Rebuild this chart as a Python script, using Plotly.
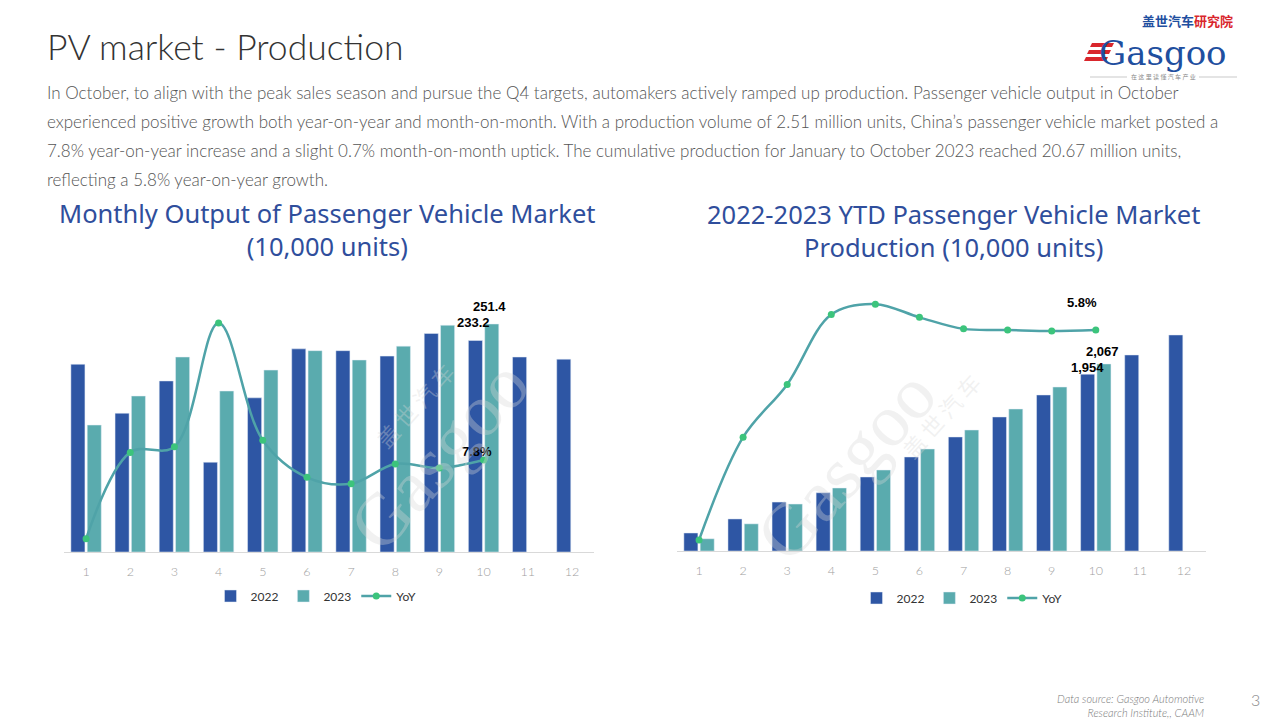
import plotly.graph_objects as go

W, H = 1280, 720

# ---------------- data ----------------
months = [str(i) for i in range(1, 13)]
monthly_2022 = [207, 153, 188.6, 99, 170, 224, 222, 216, 241, 233.2, 215, 212.6]
monthly_2023 = [140, 172, 215, 177.5, 200.6, 222, 211.7, 227, 250, 251.4]
monthly_yoy = [-32.3, 11.7, 14.6, 77.7, 17.9, -1.0, -4.3, 5.8, 3.7, 7.8]

ytd_2022 = [199, 354, 541, 644, 818, 1039, 1260, 1481, 1724, 1954, 2166, 2387]
ytd_2023 = [135, 300, 519, 696, 895, 1127, 1337, 1569, 1812, 2067]
ytd_yoy = [-32.4, -13.7, -4.1, 8.6, 10.5, 8.1, 6.0, 5.8, 5.6, 5.8]

series_names = ["2022", "2023", "YoY"]

title_main = "PV market - Production"
body_lines = [
    "In October, to align with the peak sales season and pursue the Q4 targets, automakers actively ramped up production. Passenger vehicle output in October",
    "experienced positive growth both year-on-year and month-on-month. With a production volume of 2.51 million units, China\u2019s passenger vehicle market posted a",
    "7.8% year-on-year increase and a slight 0.7% month-on-month uptick. The cumulative production for January to October 2023 reached 20.67 million units,",
    "reflecting a 5.8% year-on-year growth.",
]
left_title = "Monthly Output of Passenger Vehicle Market<br>(10,000 units)"
right_title = "2022-2023 YTD Passenger Vehicle Market<br>Production (10,000 units)"

# ---------------- style ----------------
C22 = "#2e56a4"
C23 = "#5aabae"
CLINE = "#4fa3a8"
CMARK = "#3cc47c"
CTITLE = "#2f4e9c"


def px(x):
    return x / W


def py(y):
    return 1 - y / H


fig = go.Figure()

# left chart
fig.add_trace(go.Bar(x=months, y=monthly_2022, name=series_names[0], marker_color=C22,
                     xaxis="x", yaxis="y", legend="legend"))
fig.add_trace(go.Bar(x=months[:len(monthly_2023)], y=monthly_2023, name=series_names[1],
                     marker_color=C23, xaxis="x", yaxis="y", legend="legend"))
fig.add_trace(go.Scatter(x=months[:len(monthly_yoy)], y=monthly_yoy, name=series_names[2],
                         mode="lines+markers", line=dict(color=CLINE, width=2.5, shape="spline", smoothing=1.0),
                         marker=dict(color=CMARK, size=7), xaxis="x", yaxis="y2", legend="legend"))

# right chart
fig.add_trace(go.Bar(x=months, y=ytd_2022, name=series_names[0], marker_color=C22,
                     xaxis="x3", yaxis="y3", legend="legend2"))
fig.add_trace(go.Bar(x=months[:len(ytd_2023)], y=ytd_2023, name=series_names[1],
                     marker_color=C23, xaxis="x3", yaxis="y3", legend="legend2"))
fig.add_trace(go.Scatter(x=months[:len(ytd_yoy)], y=ytd_yoy, name=series_names[2],
                         mode="lines+markers", line=dict(color=CLINE, width=2.5, shape="spline", smoothing=1.0),
                         marker=dict(color=CMARK, size=7), xaxis="x3", yaxis="y4", legend="legend2"))

xa_common = dict(type="category", showgrid=False, zeroline=False, showline=True,
                 linecolor="#d9d9d9", linewidth=1, ticks="", range=[-0.5, 11.5],
                 ticklabelstandoff=8,
                 tickfont=dict(family="Lato", size=12.5, color="#a0a0a0", weight=300), fixedrange=True)
ya_common = dict(visible=False, showgrid=False, zeroline=False, fixedrange=True)

fig.update_layout(
    width=W, height=H, margin=dict(l=0, r=0, t=0, b=0),
    paper_bgcolor="white", plot_bgcolor="rgba(0,0,0,0)",
    barmode="group", bargap=0.26, bargroupgap=0.14,
    xaxis=dict(domain=[px(64), px(594)], anchor="y", **xa_common),
    yaxis=dict(domain=[py(552), py(290)], range=[0, 288.9], **ya_common),
    yaxis2=dict(overlaying="y", range=[-39.1, 94.5], **ya_common),
    xaxis3=dict(domain=[px(677), px(1206)], anchor="y3", **xa_common),
    yaxis3=dict(domain=[py(551), py(290)], range=[0, 2884], **ya_common),
    yaxis4=dict(overlaying="y3", range=[-34.4, 13.07], **ya_common),
    legend=dict(orientation="h", x=px(316), xanchor="center", y=py(596), yanchor="middle",
                font=dict(family="Lato", size=12, color="#333"), bgcolor="rgba(0,0,0,0)",
                itemwidth=30, traceorder="normal"),
    legend2=dict(orientation="h", x=px(962), xanchor="center", y=py(598), yanchor="middle",
                 font=dict(family="Lato", size=12, color="#333"), bgcolor="rgba(0,0,0,0)",
                 itemwidth=30, traceorder="normal"),
    showlegend=True,
)

ann = []
# main title
ann.append(dict(text=title_main, x=px(45), y=py(46), xref="paper", yref="paper", xanchor="left",
                yanchor="middle", showarrow=False,
                font=dict(family="Lato", size=35.5, color="#333333", weight=300)))
# body text
for i, line in enumerate(body_lines):
    ann.append(dict(text=line, x=px(45), y=py(92 + i * 29), xref="paper", yref="paper",
                    xanchor="left", yanchor="middle", showarrow=False,
                    font=dict(family="Lato", size=17, color="#555555", weight=300)))
# chart titles
ann.append(dict(text=left_title, x=px(327), y=py(230), xref="paper", yref="paper",
                xanchor="center", yanchor="middle", showarrow=False,
                font=dict(family="Noto Sans", size=25.5, color=CTITLE)))
ann.append(dict(text=right_title, x=px(953), y=py(231), xref="paper", yref="paper",
                xanchor="center", yanchor="middle", showarrow=False,
                font=dict(family="Noto Sans", size=25.5, color=CTITLE)))

# data labels (category axes: x given as category index)
lab_font = dict(family="Liberation Sans", size=13, color="#000000", weight="bold")
k = len(monthly_2023) - 1
ann.append(dict(text=f"{monthly_2023[k]:.1f}", x=k, y=monthly_2023[k], xref="x", yref="y",
                xshift=6, yshift=18, showarrow=False, font=lab_font))
ann.append(dict(text=f"{monthly_2022[k]:.1f}", x=k, y=monthly_2022[k], xref="x", yref="y",
                xshift=-10, yshift=18, showarrow=False, font=lab_font))
ann.append(dict(text=f"{monthly_yoy[k]:.1f}%", x=k, y=monthly_yoy[k], xref="x", yref="y2",
                xshift=-7, yshift=9, showarrow=False, font=lab_font))
k2 = len(ytd_2023) - 1
ann.append(dict(text=f"{ytd_yoy[k2]:.1f}%", x=k2, y=ytd_yoy[k2], xref="x3", yref="y4",
                xshift=-14, yshift=27, showarrow=False, font=lab_font))
ann.append(dict(text=f"{ytd_2023[k2]:,.0f}", x=k2, y=ytd_2023[k2], xref="x3", yref="y3",
                xshift=7, yshift=12, showarrow=False, font=lab_font))
ann.append(dict(text=f"{ytd_2022[k2]:,.0f}", x=k2, y=ytd_2022[k2], xref="x3", yref="y3",
                xshift=-8, yshift=7, showarrow=False, font=lab_font))

# watermarks
wm = "rgba(215,215,215,0.35)"
for cx, cy in [(330, 455), (955, 465)]:
    ann.append(dict(text="Gasgoo", x=px(cx), y=py(cy), xref="paper", yref="paper", showarrow=False,
                    textangle=-48, font=dict(family="Liberation Serif", size=74, color=wm)))
    ann.append(dict(text="盖 世 汽 车", x=px(cx + 35), y=py(cy - 50), xref="paper", yref="paper",
                    showarrow=False, textangle=-48,
                    font=dict(family="Noto Sans CJK SC", size=22, color=wm)))

# logo
ann.append(dict(text="<b><span style='color:#1f4f9f'>盖世汽车</span><span style='color:#d9262c'>研究院</span></b>",
                x=px(1140), y=py(20), xref="paper", yref="paper",
                xanchor="left", yanchor="middle", showarrow=False,
                font=dict(family="Noto Sans CJK SC", size=13, color="#1f4f9f")))
ann.append(dict(text="Gasgoo", x=px(1097), y=py(53), xref="paper", yref="paper",
                xanchor="left", yanchor="middle", showarrow=False,
                font=dict(family="DejaVu Serif", size=34, color="#1f4f9f")))
ann.append(dict(text="在 这 里 读 懂 汽 车 产 业", x=px(1163), y=py(77), xref="paper", yref="paper",
                xanchor="center", yanchor="middle", showarrow=False,
                font=dict(family="Noto Sans CJK SC", size=6, color="#888888")))

# footer
ann.append(dict(text="<i>Data source: Gasgoo Automotive</i><br><i>Research Institute,, CAAM</i>",
                x=px(1206), y=py(705), xref="paper", yref="paper", xanchor="right", yanchor="middle",
                align="right", showarrow=False,
                font=dict(family="Lato", size=11, color="#7a7a7a", weight=300)))
ann.append(dict(text="3", x=px(1255), y=py(699), xref="paper", yref="paper", xanchor="center",
                yanchor="middle", showarrow=False,
                font=dict(family="Lato", size=16, color="#8a8a8a", weight=300)))

fig.update_layout(annotations=ann)

shapes = []
for i in range(3):
    shapes.append(dict(type="path", xref="paper", yref="paper",
                       path=f"M {px(1092 - i*3)} {py(43 + i*7)} L {px(1114 - i*3)} {py(43 + i*7)} "
                            f"L {px(1112 - i*3)} {py(47 + i*7)} L {px(1090 - i*3)} {py(47 + i*7)} Z",
                       fillcolor="#d9262c", line=dict(width=0)))
shapes.append(dict(type="line", xref="paper", yref="paper", x0=px(1090), x1=px(1127), y0=py(77), y1=py(77),
                   line=dict(color="#bbbbbb", width=0.8)))
shapes.append(dict(type="line", xref="paper", yref="paper", x0=px(1199), x1=px(1237), y0=py(77), y1=py(77),
                   line=dict(color="#bbbbbb", width=0.8)))
fig.update_layout(shapes=shapes)

fig.write_html("out.html", config={"displayModeBar": False},
               post_script="document.body.style.margin='0';document.body.style.overflow='hidden';")
